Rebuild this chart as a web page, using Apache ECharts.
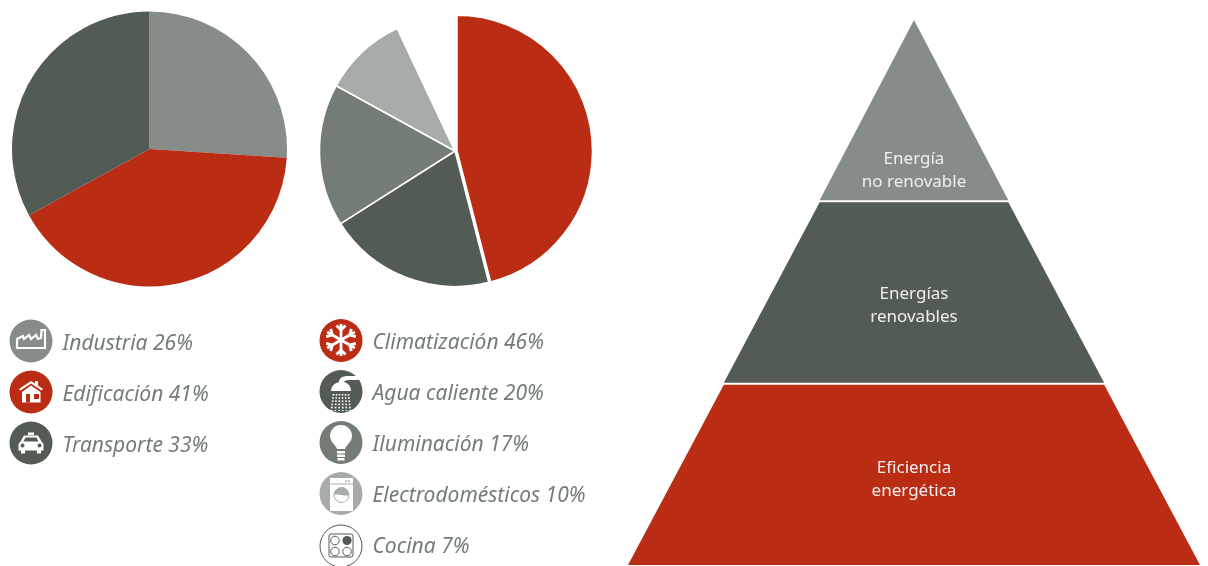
<!DOCTYPE html>
<html>
<head>
<meta charset="utf-8">
<script src="https://cdn.jsdelivr.net/npm/echarts@6/dist/echarts.min.js"></script>
<style>
html, body { margin: 0; padding: 0; background: #fff; }
#chart_id { width: 1208px; height: 566px; }
</style>
</head>
<body>
<div id="chart_id"></div>
<script>
// sectores
var sectorNames = ['Industria', 'Edificación', 'Transporte'];
var sectorValues = [26, 41, 33];
var sectorColors = ['#868c87', '#bb2c14', '#535c54'];

// usos en edificación
var useNames = ['Climatización', 'Agua caliente', 'Iluminación', 'Electrodomésticos', 'Cocina'];
var useValues = [46, 20, 17, 10, 7];
var useColors = ['#bb2c14', '#535c54', '#737c75', '#a8aca8', '#ffffff'];

// pirámide (el valor es el ancho relativo de la base de cada tramo)
var pyramidNames = ['Energía\nno renovable', 'Energías\nrenovables', 'Eficiencia\nenergética'];
var pyramidValues = [33, 66.5, 100];
var pyramidColors = ['#868c87', '#535c54', '#bb2c14'];

var LEGEND_TEXT = '#737d76';
var RED = '#bb2c14', DARK = '#535c54', LIGHT = '#a8aca8';

function toItems(names, values) {
  return names.map(function (n, i) { return { name: n, value: values[i] }; });
}
function legendFmt(names, values) {
  return function (name) { return '{t|' + name + ' ' + values[names.indexOf(name)] + '%}'; };
}
function legendBase(left, top, names, values) {
  return {
    left: left, top: top, height: 260, padding: 0, orient: 'vertical',
    itemWidth: 43, itemHeight: 43, itemGap: 8,
    icon: 'circle', selectedMode: false,
    itemStyle: { borderWidth: 0 },
    formatter: legendFmt(names, values),
    data: names,
    textStyle: {
      color: LEGEND_TEXT, fontSize: 21, fontStyle: 'italic',
      fontFamily: 'Noto Sans', padding: [0, 0, 0, 5],
      rich: {
        t: {
          color: LEGEND_TEXT, fontSize: 21, fontStyle: 'italic',
          fontFamily: 'Noto Sans', padding: [6, 0, 0, 0]
        }
      }
    }
  };
}

// piezas de los iconos, relativas al centro del círculo
// el componente graphic no trae 'path', cada trazado se registra como forma propia
var shapeCount = 0;
function P(d, color, stroke, lw, rotation) {
  var name = 'iconShape' + (shapeCount++);
  echarts.graphic.registerShape(name, echarts.graphic.extendPath(d, {}));
  return {
    type: name, z: 10, silent: true, rotation: rotation || 0,
    style: { fill: color || 'none', stroke: stroke || 'none', lineWidth: lw || 0 }
  };
}
function C(x, y, r, color, stroke, lw) {
  return {
    type: 'circle', z: 10, silent: true,
    shape: { cx: x, cy: y, r: r },
    style: { fill: color || 'none', stroke: stroke || 'none', lineWidth: lw || 0 }
  };
}
function icon(x, y, children) {
  return { type: 'group', x: x, y: y, silent: true, children: children };
}

var flake = [];
for (var k = 0; k < 6; k++) {
  flake.push(P('M0 0V-16M-4.5 -14.5L0 -10L4.5 -14.5', 'none', '#fff', 2.8, k * Math.PI / 3));
}

var shower = [P('M-10 -1C-10 -6 -6 -9 -2 -10C-2 -14 2 -16 7 -16L16 -16L18 -12L8 -12C5 -12 3 -11 3 -10C7 -9 10 -6 10 -1Z', '#fff')];
[-8, -5, -2, 1, 4, 7].forEach(function (dx) {
  shower.push({
    type: 'line', z: 10, silent: true,
    shape: { x1: dx + 0.5, y1: 2, x2: dx * 1.25 + 0.5, y2: 19 },
    style: { stroke: '#fff', lineWidth: 1.6, lineDash: [1.6, 1.6] }
  });
});

var graphics = [
  icon(31, 341, [P('M-14 7V-2L-8 -5L-7 -2L-2 -6L0 -2L5 -6L7 -2L10 -3L10.5 -11L14 -11V7Z', 'none', '#fff', 2.2)]),
  icon(31, 392, [
    P('M-12 -3L0 -11L4 -8.5V-11H7V-6.5L12 -3L10.5 -1.5L0 -8.5L-10.5 -1.5Z', '#fff'),
    P('M-9 0L0 -6.5L9.5 0V10.5H-9Z', '#fff'),
    P('M-5 2H-1V10.5H-5Z', RED),
    P('M3 2H8V7H3Z', RED)
  ]),
  icon(31, 443, [
    P('M-3 -10.5H3V-8H-3Z', '#fff'),
    P('M-7 -7.5H7L10.5 -1.5L12.5 1V7.5H10V10.5H6V7.5H-6V10.5H-10V7.5H-12.5V1L-10.5 -1.5Z', '#fff'),
    P('M-5.5 -5.5H5.5L7.5 -1.5H-7.5Z', DARK),
    C(-8.5, 2.5, 2, DARK), C(8.5, 2.5, 2, DARK)
  ]),
  icon(341, 340, flake),
  icon(341, 392, shower),
  icon(341, 443, [
    P('M-4 6C-5 2 -11 -1 -11 -7A11 11 0 0 1 11 -7C11 -1 5 2 4 6Z', '#fff'),
    P('M-4 8H4V10.5H-4ZM-4 11.5H4V14H-4ZM-3.5 15H3.5V17.5H-3.5Z', '#fff')
  ]),
  icon(341, 494, [
    P('M-11 -16H12V17H-11Z', '#fff'),
    { type: 'line', z: 10, silent: true, shape: { x1: -11, y1: -10, x2: 12, y2: -10 }, style: { stroke: LIGHT, lineWidth: 1 } },
    C(5, -13, 0.9, LIGHT), C(8, -13, 0.9, LIGHT),
    C(0.5, 1, 7.5, '#fff', LIGHT, 1),
    P('M-7 1A7.5 7.5 0 0 1 8 1C4 3 -3 -1 -7 1Z', LIGHT)
  ]),
  icon(341, 546, [
    C(0, 0, 21, '#fff', DARK, 1),
    { type: 'rect', z: 10, silent: true, shape: { x: -12, y: -12, width: 24, height: 23, r: 2 }, style: { fill: 'none', stroke: DARK, lineWidth: 1 } },
    C(-6, -5.5, 4.3, 'none', DARK, 1), C(6, -5.5, 4.6, DARK),
    C(-6, 5.5, 4.3, 'none', DARK, 1), C(6, 5.5, 4.3, 'none', DARK, 1)
  ])
];

var chart = echarts.init(document.getElementById('chart_id'));
var useItems = toItems(useNames, useValues);
useItems[0].selected = true;

chart.setOption({
  animation: false,
  legend: [
    legendBase(9.5, 319.5, sectorNames, sectorValues),
    legendBase(319.5, 319, useNames, useValues)
  ],
  graphic: graphics,
  series: [
    {
      type: 'pie', silent: true, center: [149.5, 149], radius: [0, 137.5],
      startAngle: 90, color: sectorColors,
      label: { show: false }, labelLine: { show: false },
      itemStyle: { borderWidth: 0 },
      data: toItems(sectorNames, sectorValues)
    },
    {
      type: 'pie', silent: true, center: [455, 151], radius: [0, 135.5],
      startAngle: 90, color: useColors,
      selectedMode: 'multiple', selectedOffset: 2,
      label: { show: false }, labelLine: { show: false },
      itemStyle: { borderColor: '#fff', borderWidth: 1.5 },
      data: useItems
    },
    {
      type: 'funnel', silent: true, sort: 'ascending',
      left: 628, top: 20, width: 572, height: 545,
      min: 0, max: 100, minSize: 0, maxSize: '100%', gap: 2,
      color: pyramidColors,
      itemStyle: { borderWidth: 0 },
      label: {
        show: true, position: 'inside', color: '#eef0ee', fontSize: 17,
        lineHeight: 23, fontFamily: 'Noto Sans', align: 'center'
      },
      labelLine: { show: false },
      labelLayout: function (p) { return { dy: [60, 13, 5][p.dataIndex] }; },
      data: toItems(pyramidNames, pyramidValues)
    }
  ]
});
</script>
</body>
</html>
